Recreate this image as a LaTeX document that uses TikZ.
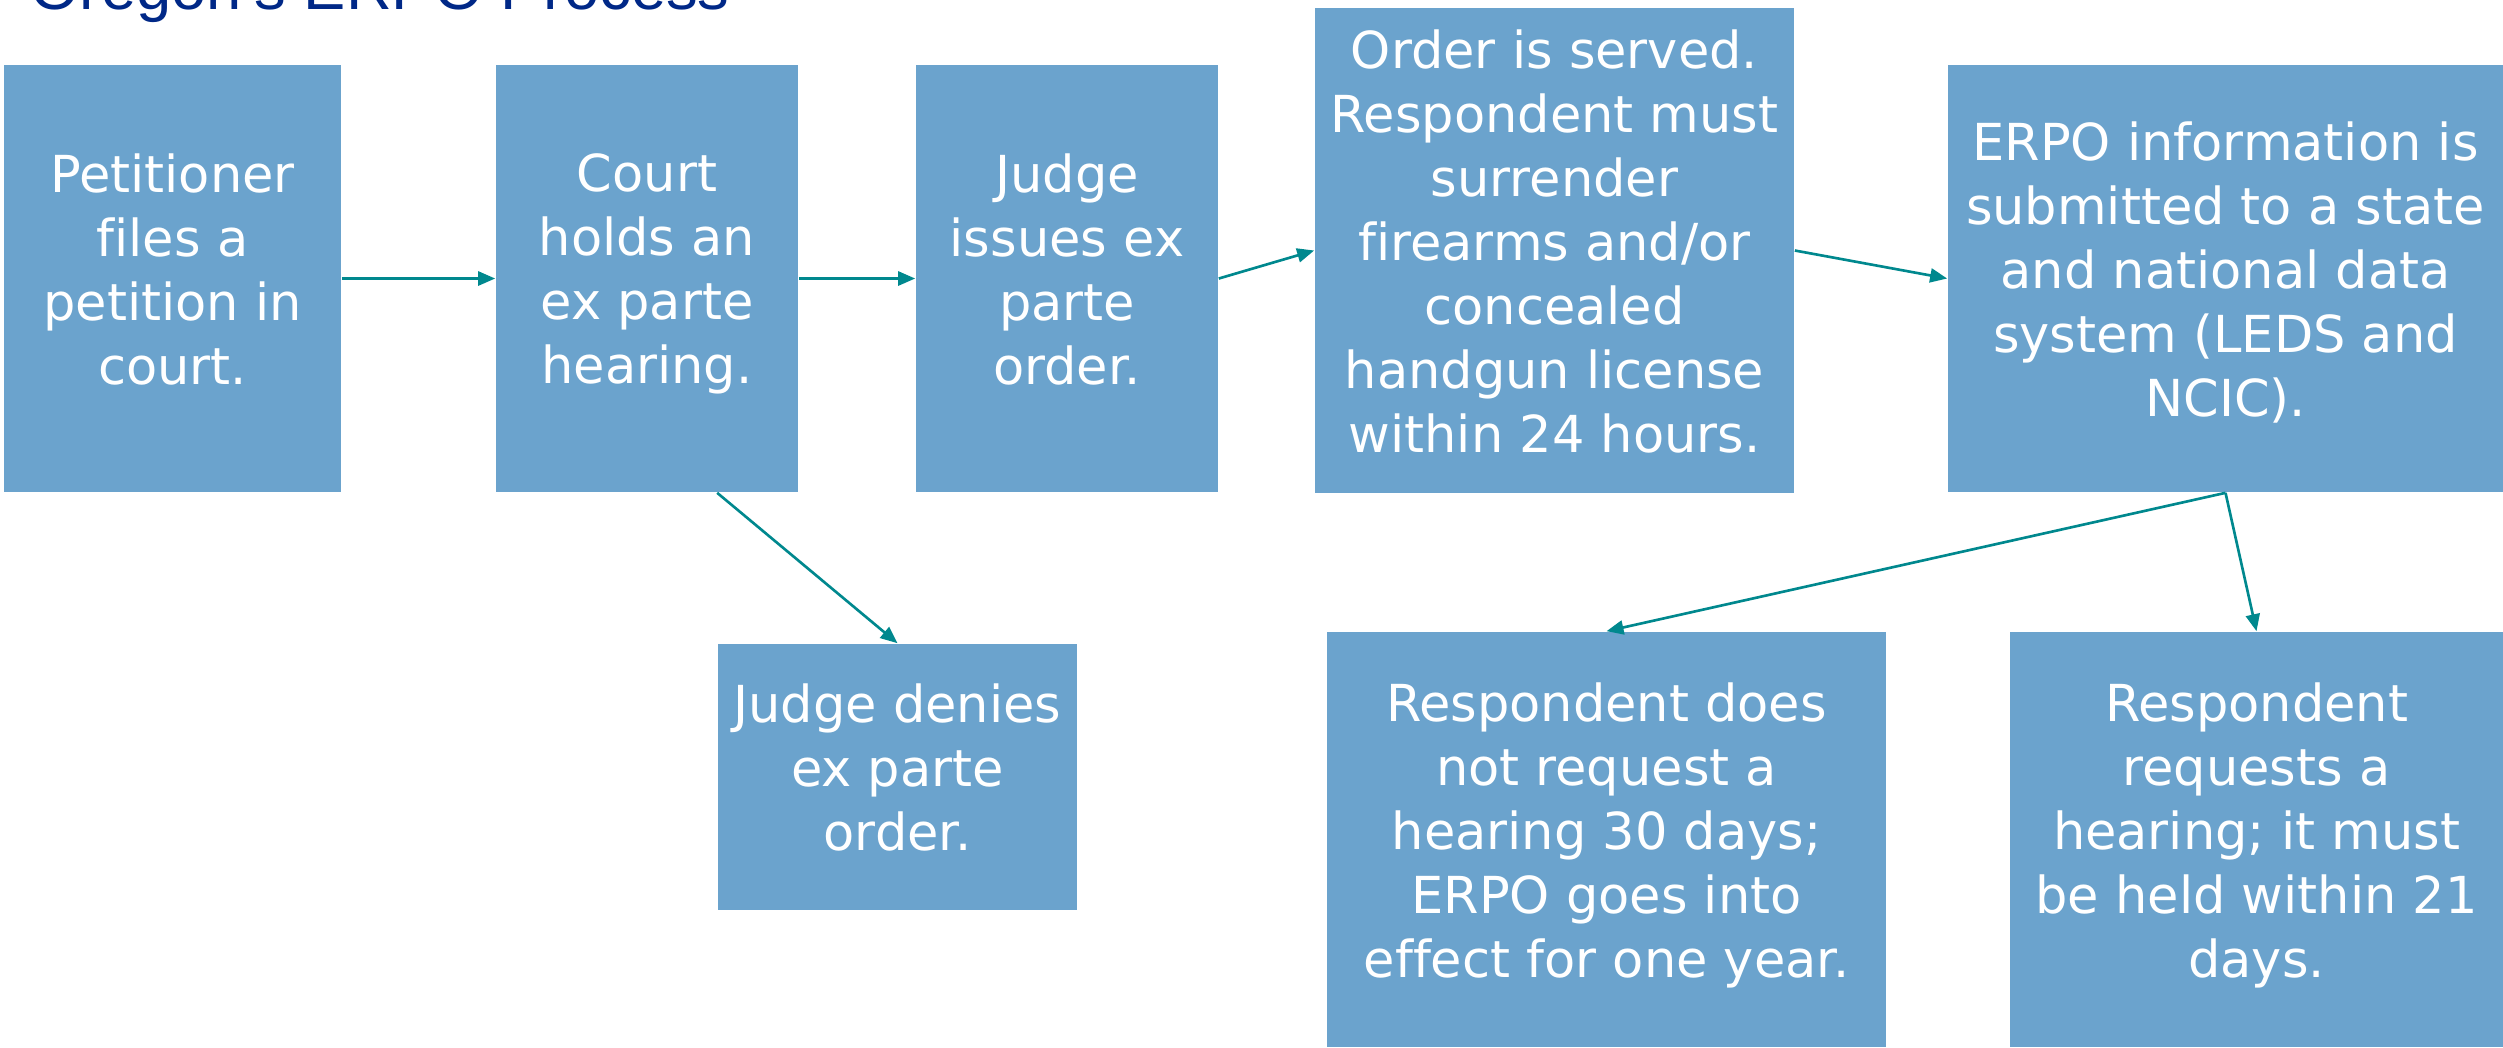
\documentclass[tikz,border=0pt]{standalone}
\usepackage{fontspec}
\usetikzlibrary{arrows.meta}
\newfontfamily\boxfont[Ligatures=NoCommon]{DejaVu Sans}
\newfontfamily\titlefont{Liberation Sans}
\definecolor{boxblue}{RGB}{107,163,205}
\definecolor{flowteal}{RGB}{0,136,142}
\definecolor{titleblue}{RGB}{0,40,135}

\begin{document}
\begin{tikzpicture}[x=0.01cm, y=-0.01cm,
    stage/.style={rectangle, fill=boxblue, text=white, inner sep=0pt, align=center,
      font=\boxfont\fontsize{14.5}{18.2}\selectfont,
      execute at begin node=\strut, execute at end node=\strut},
    flow/.style={draw=flowteal, line width=0.75pt,
      -{Triangle[length=0.17cm, width=0.14cm]}}]
  \useasboundingbox (0,0) rectangle (2503,1047);
  \node[anchor=base west, text=titleblue, font=\titlefont\fontsize{18}{22}\selectfont,
    inner sep=0pt] (title) at (30,9.5) {Oregon’s ERPO Process};

  \node[stage, minimum width=3.37cm, minimum height=4.27cm] (petition) at (172.5,278.5)
    {Petitioner\\files a\\petition in\\court.};
  \node[stage, minimum width=3.02cm, minimum height=4.27cm] (court) at (647,278.5)
    {Court\\holds an\\ex parte\\hearing.};
  \node[stage, minimum width=3.02cm, minimum height=4.27cm] (issue) at (1067,278.5)
    {Judge\\issues ex\\parte\\order.};
  \node[stage, minimum width=4.79cm, minimum height=4.85cm] (served) at (1554.5,250.5)
    {Order is served.\\Respondent must\\surrender\\firearms and/or\\concealed\\handgun license\\within 24 hours.};
  \node[stage, minimum width=5.55cm, minimum height=4.27cm] (leds) at (2225.5,278.5)
    {ERPO information is\\submitted to a state\\and national data\\system (LEDS and\\NCIC).};
  \node[stage, minimum width=3.59cm, minimum height=2.66cm] (deny) at (897.5,777)
    {Judge denies\\ex parte\\order.};
  \node[stage, minimum width=5.59cm, minimum height=4.15cm] (noreq) at (1606.5,839.5)
    {Respondent does\\not request a\\hearing 30 days;\\ERPO goes into\\effect for one year.};
  \node[stage, minimum width=4.93cm, minimum height=4.15cm] (req) at (2256.5,839.5)
    {Respondent\\requests a\\hearing; it must\\be held within 21\\days.};

  \draw[flow] (petition) -- (court);
  \draw[flow] (court) -- (issue);
  \draw[flow] (issue.east) -- (served.west);
  \draw[flow] (served.east) -- (leds.west);
  \draw[flow] (court.south -| deny.west) -- (deny.north);
  \draw[flow] (leds.south) -- (noreq.north);
  \draw[flow] (leds.south) -- (req.north);
\end{tikzpicture}
\end{document}
